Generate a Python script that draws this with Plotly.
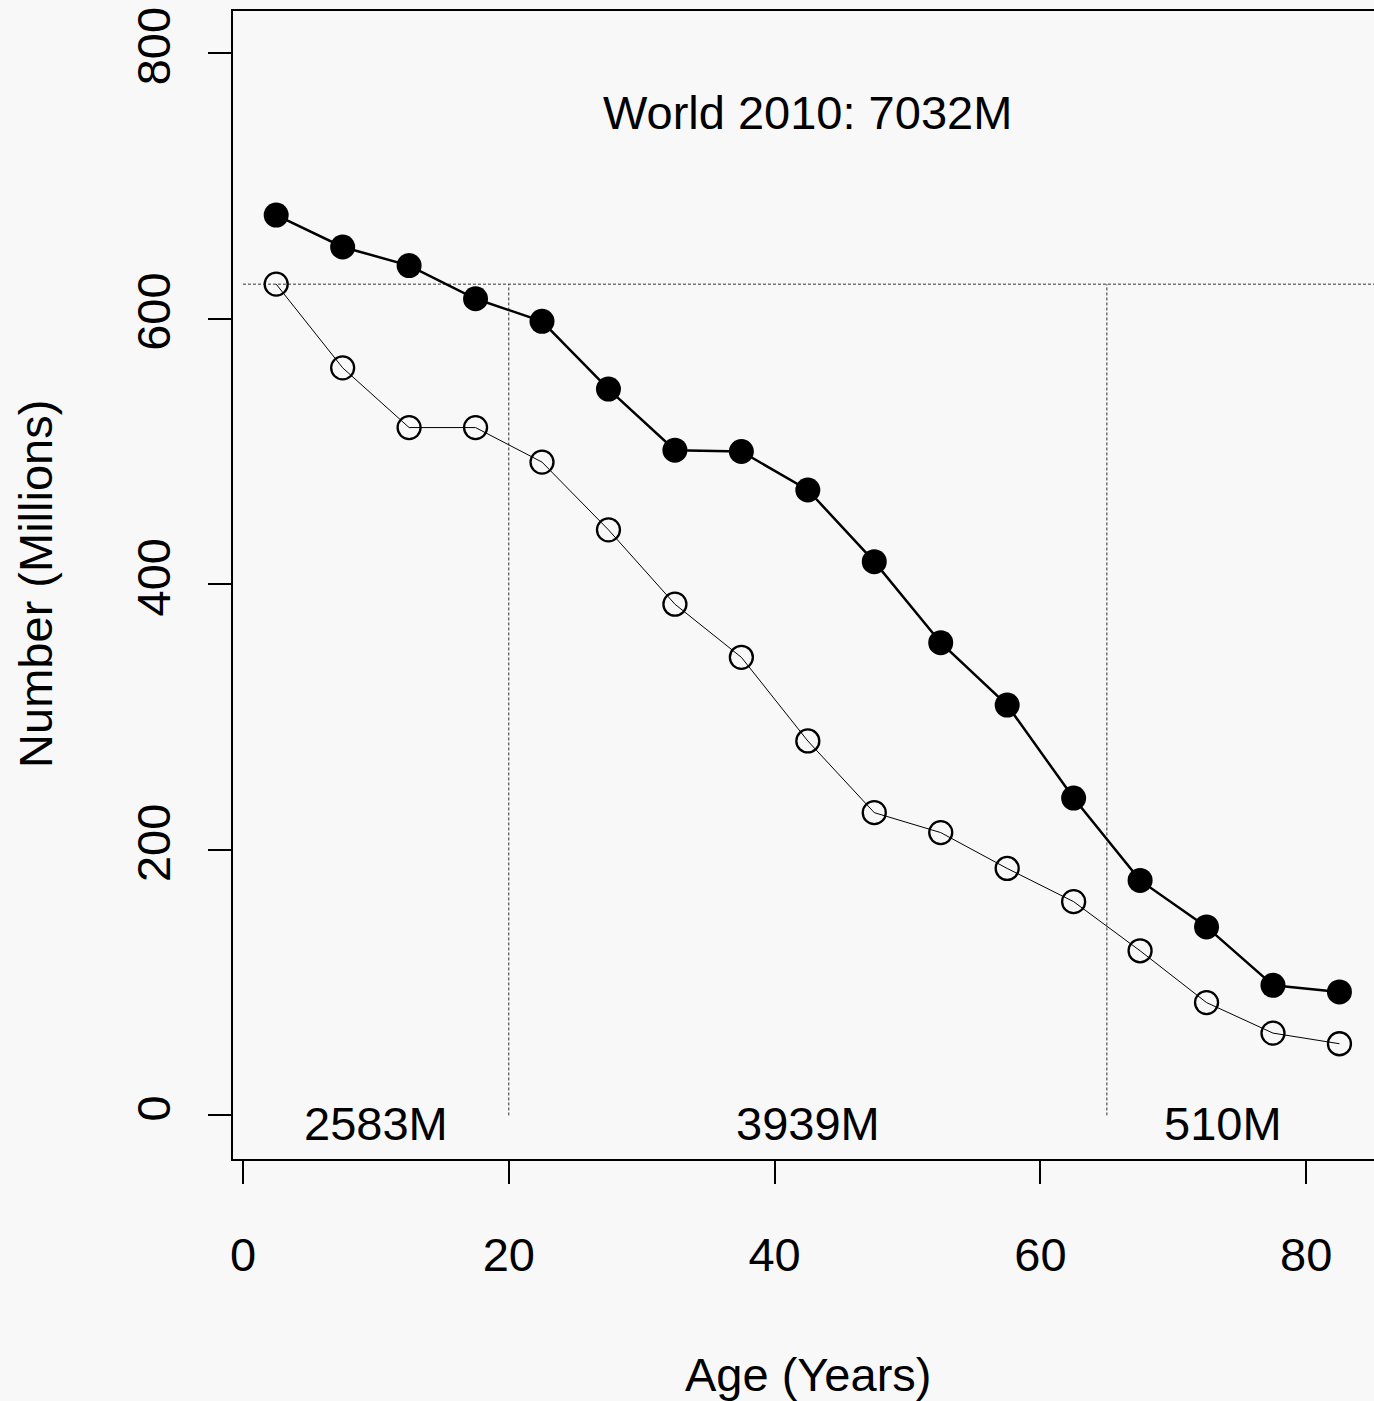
import plotly.graph_objects as go

ages = [2.5, 7.5, 12.5, 17.5, 22.5, 27.5, 32.5, 37.5, 42.5, 47.5, 52.5, 57.5, 62.5, 67.5, 72.5, 77.5, 82.5]
world_2010 = [678, 654, 640, 615, 598, 547, 501, 500, 471, 417, 356, 309, 239, 177, 142, 98, 93]
other_series = [626, 563, 518, 518, 492, 441, 385, 345, 282, 228, 213, 186, 161, 124, 85, 62, 54]

ref_level = 626
cutoffs = [20, 65]
group_labels = ["2583M", "3939M", "510M"]
group_label_x = [10, 42.5, 73.75]
title_text = "World 2010: 7032M"
x_ticks = [0, 20, 40, 60, 80]
y_ticks = [0, 200, 400, 600, 800]

FONT = "Liberation Sans, Arial, Helvetica, sans-serif"
BG = "#f8f8f8"
FS = 47

fig = go.Figure()

# reference lines
fig.add_trace(go.Scatter(x=[0, 200], y=[ref_level, ref_level], mode="lines",
                         line=dict(color="#333333", width=1, dash="3px,2px"),
                         hoverinfo="skip", showlegend=False))
for c in cutoffs:
    fig.add_trace(go.Scatter(x=[c, c], y=[0, ref_level], mode="lines",
                             line=dict(color="#333333", width=1, dash="3px,2px"),
                             hoverinfo="skip", showlegend=False))

fig.add_trace(go.Scatter(x=ages, y=other_series, mode="lines+markers",
                         line=dict(color="black", width=1),
                         marker=dict(symbol="circle-open", size=23, color="black",
                                     line=dict(width=2.3, color="black")),
                         showlegend=False))
fig.add_trace(go.Scatter(x=ages, y=world_2010, mode="lines+markers",
                         line=dict(color="black", width=2.5),
                         marker=dict(symbol="circle", size=25, color="black"),
                         showlegend=False))

ann = []
ann.append(dict(x=42.5, y=755, xref="x", yref="y", text=title_text, showarrow=False,
                xanchor="center", yanchor="middle", font=dict(size=FS, color="black", family=FONT)))
for lab, gx in zip(group_labels, group_label_x):
    ann.append(dict(x=gx, y=-6, xref="x", yref="y", text=lab, showarrow=False,
                    xanchor="center", yanchor="middle", font=dict(size=FS, color="black", family=FONT)))
ann.append(dict(x=42.5, y=-0.188, xref="x", yref="paper", text="Age (Years)", showarrow=False,
                xanchor="center", yanchor="middle", font=dict(size=FS, color="black", family=FONT)))
ann.append(dict(x=-0.173, y=400, xref="paper", yref="y", text="Number (Millions)", showarrow=False,
                textangle=-90, xanchor="center", yanchor="middle",
                font=dict(size=FS, color="black", family=FONT)))

fig.update_layout(
    width=1374, height=1401,
    margin=dict(l=233, r=0, t=11, b=242, autoexpand=False),
    paper_bgcolor=BG, plot_bgcolor=BG,
    font=dict(family=FONT, size=FS, color="black"),
    annotations=ann,
    xaxis=dict(range=[-0.75, 85.1], tickvals=x_ticks, ticktext=[str(v) for v in x_ticks],
               ticks="outside", ticklen=23, tickwidth=2, tickcolor="black",
               showline=True, mirror=True, linecolor="black", linewidth=2,
               showgrid=False, zeroline=False, ticklabelstandoff=31,
               tickfont=dict(size=FS, family=FONT, color="black")),
    yaxis=dict(range=[-32.8, 831.7], tickvals=y_ticks, ticktext=[str(v) for v in y_ticks],
               ticks="outside", ticklen=23, tickwidth=2, tickcolor="black",
               showline=True, mirror=False, linecolor="black", linewidth=2,
               showgrid=False, zeroline=False, tickangle=-90, ticklabelstandoff=19,
               tickfont=dict(size=FS, family=FONT, color="black")),
)

fig.write_html("out.html", config={"displayModeBar": False},
               post_script="document.body.style.margin='0';document.body.style.background='#f8f8f8';document.body.style.overflow='hidden';")
